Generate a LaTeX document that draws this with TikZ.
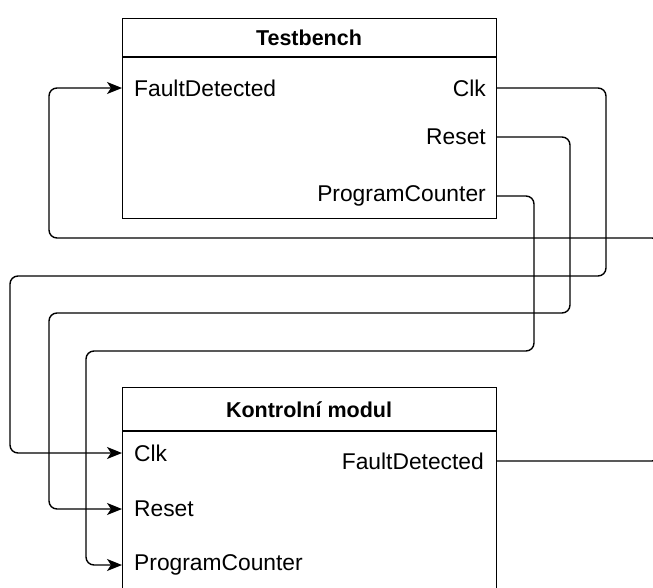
\documentclass[tikz,border=0pt]{standalone}
\usepackage{fontspec}
\setmainfont{Liberation Sans}
\usetikzlibrary{arrows.meta}
\begin{document}
\begin{tikzpicture}[x=1pt,y=-1pt,
  box/.style={draw,line width=1.4pt,minimum width=374pt,anchor=north west,inner sep=0pt},
  port/.style={inner sep=0pt,font=\fontsize{22.8}{26}\selectfont},
  title/.style={inner sep=0pt,font=\fontsize{21.5}{26}\selectfont\bfseries},
  wire/.style={line width=1.4pt,rounded corners=8pt},
  inwire/.style={wire,-{Stealth[length=15pt,width=12pt,inset=4pt]}}]
\useasboundingbox (0,0) rectangle (653,587);
\clip (0,0) rectangle (653,587);
% Testbench
\node[box,minimum height=200pt] (tb) at (122,18) {};
\draw[line width=1.4pt] (122,57) -- (496,57);
\node[title] (tbt) at (309,38) {Testbench};
\node[port,anchor=west] (tbfd) at (134,88) {FaultDetected};
\node[port,anchor=east] (tbclk) at (486,88) {Clk};
\node[port,anchor=east] (tbrst) at (486,137) {Reset};
\node[port,anchor=east] (tbpc) at (486,196) {ProgramCounter};
% Kontrolni modul
\node[box,minimum height=240pt] (km) at (122,387) {};
\draw[line width=1.4pt] (122,431) -- (496,431);
\node[title] (kmt) at (309,410) {Kontrolní modul};
\node[port,anchor=west] (kmclk) at (134,453) {Clk};
\node[port,anchor=east] (kmfd) at (484,461) {FaultDetected};
\node[port,anchor=west] (kmrst) at (134,509) {Reset};
\node[port,anchor=west] (kmpc) at (134,565) {ProgramCounter};
% connectors
\coordinate (tbfdin) at (122,88);
\coordinate (tbclkout) at (496,88);
\coordinate (tbrstout) at (496,137);
\coordinate (tbpcout) at (496,196);
\coordinate (kmclkin) at (122,453);
\coordinate (kmrstin) at (122,509);
\coordinate (kmpcin) at (122,565);
\coordinate (kmfdout) at (496,461);
\draw[inwire] (tbclkout) -- (606,88) -- (606,276) -- (10,276) -- (10,453) -- (kmclkin);
\draw[inwire] (tbrstout) -- (570,137) -- (570,313) -- (49,313) -- (49,509) -- (kmrstin);
\draw[inwire] (tbpcout) -- (534,196) -- (534,351) -- (86,351) -- (86,565) -- (kmpcin);
\draw[inwire] (kmfdout) -- (660,461) -- (660,238) -- (49,238) -- (49,88) -- (tbfdin);
\end{tikzpicture}
\end{document}
